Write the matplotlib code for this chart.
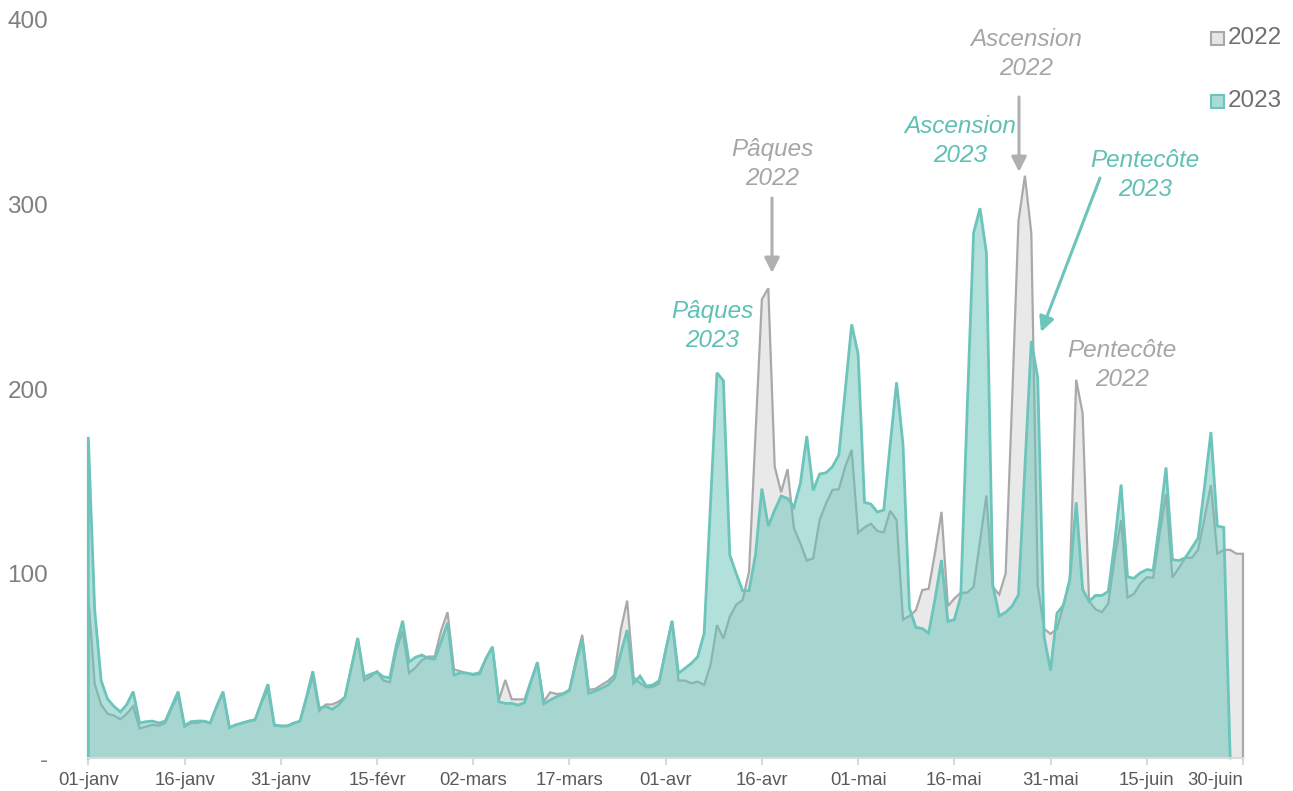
import matplotlib
matplotlib.use("Agg")
import matplotlib.pyplot as plt
from matplotlib.patches import Rectangle
import numpy as np

plt.rcParams['font.family'] = ['Liberation Sans', 'DejaVu Sans']

# ---------------- data ----------------
tick_labels = ["01-janv", "16-janv", "31-janv", "15-févr", "02-mars", "17-mars", "01-avr",
               "16-avr", "01-mai", "16-mai", "31-mai", "15-juin", "30-juin"]
ytick_values = [0, 100, 200, 300, 400]
ytick_labels = ["-", "100", "200", "300", "400"]

values_2022 = [
    88, 40, 29, 24, 23, 21, 24, 28, 16, 17,
    18, 17.5, 19, 27, 34, 17, 19, 19, 20, 19,
    28, 35, 16.5, 18, 19, 20, 21, 30, 37, 17.5,
    17.5, 17.5, 19, 20, 32, 44, 25.5, 29, 29, 30.5,
    33, 49, 65, 42, 44, 47, 42, 41, 58, 69,
    46, 49, 53, 55, 55, 69, 79, 48, 47, 46,
    45, 45.5, 54, 60, 31.4, 42.3, 31.8, 31.8, 31.8, 42,
    52, 30.5, 35.6, 34.7, 35, 37, 53, 66.7, 37, 37.4,
    39.6, 41.7, 45, 69.4, 85.3, 44, 40.5, 38.3, 38.5, 40.5,
    59, 74, 42, 42, 40.5, 41.4, 39.6, 50.4, 72, 64.8,
    76.6, 83, 85.6, 101, 175, 248.6, 254.6, 158, 144, 156.5,
    124.5, 116.4, 107, 108.2, 129, 138, 145.3, 145.7, 158, 167,
    122, 125, 127, 123, 122.3, 134, 129, 75, 77, 80,
    91, 91.7, 111.5, 133.4, 82.3, 86.4, 89.6, 89.6, 92.7, 117.7,
    142.3, 92.7, 88.6, 100, 193, 291, 315.6, 284.5, 93.5, 70,
    67.3, 70, 82.8, 96.7, 205, 186.8, 85, 80.6, 79, 83.8,
    108.5, 129, 87, 89, 94.6, 98, 97.7, 121.4, 143, 97.8,
    103, 108.5, 108.5, 112.8, 130, 148, 110.7, 112.8, 112.8, 110.7,
    110.7,
]

values_2023 = [
    174, 80, 42, 32, 28, 25, 29, 36, 19, 19.7,
    20, 19, 20, 28, 36, 17.5, 19.7, 20, 20, 19,
    28, 36, 16.5, 18, 19, 20, 20.6, 30.5, 40, 18,
    17.3, 17.3, 18.8, 20, 33, 47, 27, 28, 26.4, 28.7,
    33, 49, 65, 44, 45.4, 46.6, 44, 43.5, 61, 74.4,
    52, 54.6, 55.8, 54, 53.7, 63, 73.3, 45, 46.2, 46,
    45.4, 46.3, 54, 60.3, 30.5, 29.6, 29.6, 28.7, 30, 41.4,
    51.7, 29.3, 31.4, 33.2, 34.7, 36.5, 51.3, 64.3, 35, 36.3,
    37.8, 39.6, 43.2, 56.7, 69.4, 40.5, 44.4, 39, 39.6, 41.9,
    58, 74.4, 45.9, 48.6, 51.3, 54.9, 67.6, 138, 208.8, 204.5,
    110, 100, 90.7, 90.7, 110, 146, 125.7, 134.4, 142, 140.7,
    136, 148.9, 174.5, 145, 153.9, 154.6, 157.9, 164.2, 199.5, 235,
    219, 138.6, 137.6, 133.3, 134.4, 170, 203.6, 170, 81.3, 70.8,
    70.2, 67.7, 86.4, 107.3, 74, 75, 87.5, 188.6, 284.6, 298,
    274, 93.8, 77, 79, 82.3, 88.5, 157, 226, 206.3, 65.6,
    47.4, 78.5, 82.8, 96.7, 138.6, 91.4, 84.9, 88.1, 88.1, 90.3,
    117, 148.2, 98.2, 97.4, 100.4, 102.1, 101.7, 128, 157.5, 107.5,
    107, 108.5, 113.9, 119.2, 147, 176.7, 125.7, 125, 0,
]

series_labels = ["2022", "2023"]

# ---------------- styles ----------------
W, H = 1293, 791
GREY_FILL = "#e9e9e9"
GREY_LINE = "#a9a9a9"
TEAL_FILL = "#66c2b8"
TEAL_LINE = "#6cc4ba"
TEAL_TEXT = "#5fc0b5"
GREY_TEXT = "#a6a6a6"
BIG = 17.5

def fx(px):
    return px / W

def fy(py):
    return 1 - py / H

fig = plt.figure(figsize=(W / 100, H / 100), dpi=100)
ax = fig.add_axes([fx(88.3), fy(758), fx(1243) - fx(88.3), fy(20) - fy(758)])

x22 = np.arange(len(values_2022))
x23 = np.arange(len(values_2023))
y22 = np.array(values_2022, dtype=float)
y23 = np.array(values_2023, dtype=float)

ax.fill_between(x22, 0, y22, color=GREY_FILL, lw=0, zorder=1)
ax.plot(np.r_[x22[0], x22, x22[-1]], np.r_[0, y22, 0], color=GREY_LINE, lw=1.6,
        zorder=2, clip_on=False, solid_joinstyle='miter')
ax.fill_between(x23, 0, y23, color=TEAL_FILL, alpha=0.5, lw=0, zorder=3)
ax.plot(np.r_[x23[0], x23], np.r_[0, y23], color=TEAL_LINE, lw=2.0,
        zorder=4, clip_on=False, solid_joinstyle='miter')

ax.set_xlim(0, 180)
ax.set_ylim(0, 400)

ax.set_xticks(np.arange(0, 181, 15))
ax.set_xticklabels(tick_labels)
ax.set_yticks(ytick_values)
ax.set_yticklabels(ytick_labels)

for s in ["top", "right", "left"]:
    ax.spines[s].set_visible(False)
ax.spines["bottom"].set_color("#d9d9d9")
ax.spines["bottom"].set_linewidth(1.5)
ax.spines["bottom"].set_zorder(5)

ax.tick_params(axis="x", length=5, width=1.5, color="#d9d9d9", labelsize=13.3,
               labelcolor="#595959", pad=5)
ax.tick_params(axis="y", length=0, labelsize=BIG, labelcolor="#7f7f7f", pad=29)
xt = ax.get_xticklabels()
xt[-1].set_ha("right")

# ---------------- legend ----------------
for (lab, py, fc, ec) in [("2022", 38, "#e6e6e6", "#a9a9a9"), ("2023", 101, "#a8dcd6", "#6cc4ba")]:
    fig.patches.append(Rectangle((fx(1211), fy(py + 6.5)), fx(13), 13 / H,
                                 transform=fig.transFigure, facecolor=fc,
                                 edgecolor=ec, lw=1.5, figure=fig))
    fig.text(fx(1228), fy(py), lab, ha="left", va="center", fontsize=BIG, color="#707070")

# ---------------- annotations ----------------
def note(txt, px, py, color):
    fig.text(fx(px), fy(py), txt, ha="center", va="center", fontsize=BIG,
             style="italic", color=color, linespacing=1.3)

def arrow(x0, y0, x1, y1, color):
    ax.annotate("", xy=(fx(x1), fy(y1)), xytext=(fx(x0), fy(y0)),
                xycoords="figure fraction", textcoords="figure fraction",
                arrowprops=dict(arrowstyle="-|>,head_length=0.9,head_width=0.45",
                                color=color, lw=2.2, shrinkA=0, shrinkB=0))

note("Pâques\n2022", 772, 164, GREY_TEXT)
arrow(772, 198, 772, 273, "#b0b0b0")
note("Pâques\n2023", 712, 326, TEAL_TEXT)
note("Ascension\n2022", 1026, 54, GREY_TEXT)
arrow(1019, 97, 1019, 172, "#b0b0b0")
note("Ascension\n2023", 960, 141, TEAL_TEXT)
note("Pentecôte\n2023", 1145, 175, TEAL_TEXT)
arrow(1100, 178, 1041, 332, TEAL_LINE)
note("Pentecôte\n2022", 1122, 365, GREY_TEXT)

fig.savefig("out.png", dpi=100)
